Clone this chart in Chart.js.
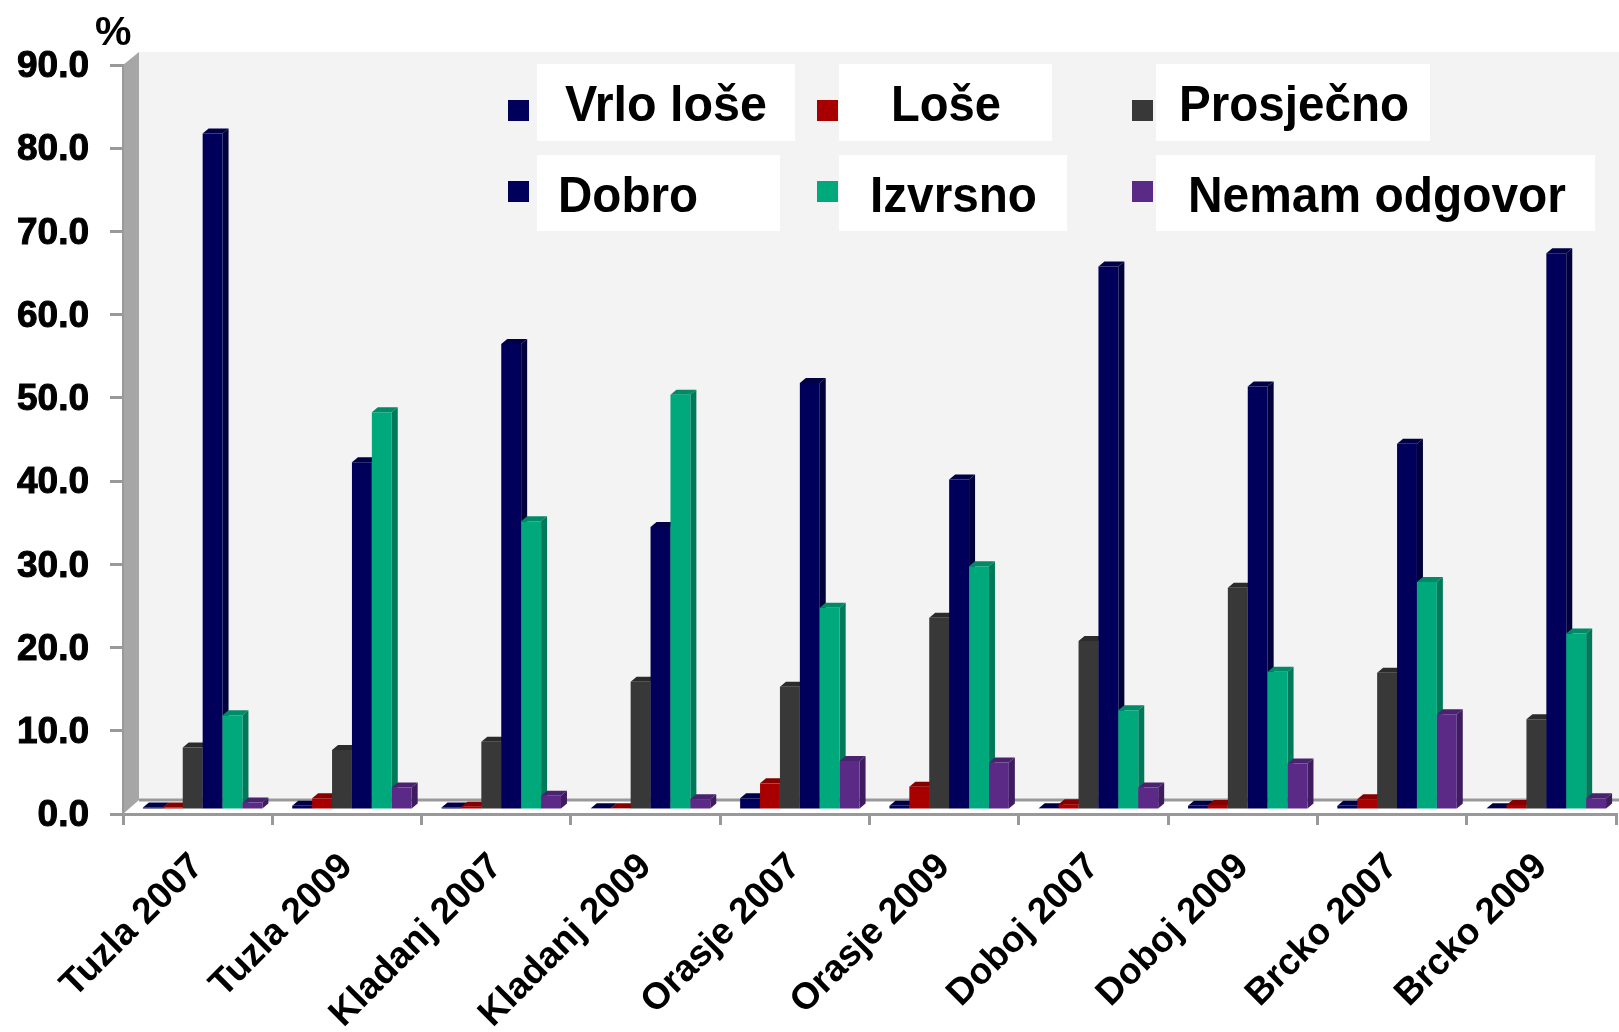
<!DOCTYPE html>
<html>
<head>
<meta charset="utf-8">
<title>Chart</title>
<script src="https://cdn.jsdelivr.net/npm/chart.js@4/dist/chart.umd.min.js"></script>
<style>
  html, body { margin: 0; padding: 0; background: #fff; overflow: hidden; }
  canvas { display: block; }
</style>
</head>
<body>
<canvas id="chart" width="1619" height="1032"></canvas>
<script>
// Values
const categories = ['Tuzla 2007', 'Tuzla 2009', 'Kladanj 2007', 'Kladanj 2009', 'Orasje 2007',
                    'Orasje 2009', 'Doboj 2007', 'Doboj 2009', 'Brcko 2007', 'Brcko 2009'];
const seriesNames = ['Vrlo loše', 'Loše', 'Prosječno', 'Dobro', 'Izvrsno', 'Nemam odgovor'];
const vrloLose = [0.3, 0.5, 0.3, 0.2, 1.4, 0.5, 0.2, 0.5, 0.5, 0.2];
const lose     = [0.3, 1.4, 0.4, 0.2, 3.2, 2.8, 0.7, 0.6, 1.3, 0.6];
const prosjecno = [7.5, 7.2, 8.2, 15.4, 14.8, 23.1, 20.3, 26.7, 16.5, 10.9];
const dobro    = [81.3, 41.8, 56.0, 34.0, 51.3, 39.7, 65.3, 50.9, 44.0, 66.9];
const izvrsno  = [11.4, 47.8, 34.7, 49.9, 24.3, 29.3, 12.0, 16.6, 27.4, 21.2];
const nemam    = [0.9, 2.7, 1.7, 1.3, 5.9, 5.7, 2.7, 5.6, 11.5, 1.4];
const seriesValues = [vrloLose, lose, prosjecno, dobro, izvrsno, nemam];

const frontColors = ['#00005a', '#a80000', '#383838', '#00005a', '#00a97c', '#5b2a86'];
const topColors   = ['#000048', '#860000', '#2b2b2b', '#000048', '#008a66', '#4a2370'];
const sideColors  = ['#00003a', '#6c0000', '#222222', '#00003a', '#00785a', '#3f1c60'];

// fake 3D: bars sit a little inside the box, depth goes up and to the right
const shiftX = 5, shiftY = -4, depthX = 6, depthY = 5;

function drawDepth(ctx, meta, i) {
  meta.data.forEach(function(bar) {
    const p = bar.getProps(['x', 'y', 'base', 'width'], true);
    const l = p.x - p.width / 2, r = p.x + p.width / 2;
    ctx.fillStyle = topColors[i];
    ctx.beginPath();
    ctx.moveTo(l, p.y);
    ctx.lineTo(l + depthX, p.y - depthY);
    ctx.lineTo(r + depthX, p.y - depthY);
    ctx.lineTo(r, p.y);
    ctx.closePath();
    ctx.fill();
    ctx.fillStyle = sideColors[i];
    ctx.beginPath();
    ctx.moveTo(r, p.y);
    ctx.lineTo(r + depthX, p.y - depthY);
    ctx.lineTo(r + depthX, p.base - depthY);
    ctx.lineTo(r, p.base);
    ctx.closePath();
    ctx.fill();
  });
}

const boxPlugin = {
  id: 'box3d',
  beforeDraw: function(chart) {
    const ctx = chart.ctx, left = chart.chartArea.left, bottom = chart.chartArea.bottom;
    ctx.save();
    // back wall
    ctx.fillStyle = '#f3f3f3';
    ctx.fillRect(139, 52, 1480, 748);
    // left wall
    ctx.fillStyle = '#a6a6a6';
    ctx.beginPath();
    ctx.moveTo(left, 65);
    ctx.lineTo(139, 52);
    ctx.lineTo(139, 800);
    ctx.lineTo(left, bottom);
    ctx.closePath();
    ctx.fill();
    // floor back edge
    ctx.strokeStyle = '#999999';
    ctx.lineWidth = 3;
    ctx.beginPath();
    ctx.moveTo(139, 800);
    ctx.lineTo(1619, 800);
    ctx.stroke();
    ctx.restore();
  },
  beforeDatasetsDraw: function(chart) {
    // series go left to right here, so each front covers the depth of the one before
    const ctx = chart.ctx;
    ctx.save();
    ctx.translate(shiftX, shiftY);
    seriesNames.forEach(function(name, i) {
      const meta = chart.getDatasetMeta(i);
      drawDepth(ctx, meta, i);
      meta.controller.draw();
    });
    ctx.restore();
    return false;
  },
  afterDraw: function(chart) {
    const ctx = chart.ctx;
    ctx.save();
    ctx.fillStyle = '#000';
    ctx.textBaseline = 'alphabetic';
    ctx.textAlign = 'left';
    ctx.font = 'bold 41px "Liberation Sans", Arial, sans-serif';
    ctx.fillText('%', 95, 45);

    // legend: [box left, top, right, bottom, swatch x, swatch y, text x, baseline, text width]
    const slots = [
      [537, 64, 795, 141, 508, 100, 565, 121, 202],
      [839, 64, 1052, 141, 817, 100, 891, 121, 110],
      [1156, 64, 1430, 141, 1132, 100, 1179, 121, 230],
      [537, 155, 780, 231, 508, 181, 558, 212, 140],
      [839, 155, 1067, 231, 817, 181, 870, 212, 167],
      [1156, 155, 1595, 231, 1132, 181, 1188, 212, 378]
    ];
    ctx.font = 'bold 50px "Liberation Sans", Arial, sans-serif';
    seriesNames.forEach(function(name, i) {
      const s = slots[i];
      ctx.fillStyle = '#ffffff';
      ctx.fillRect(s[0], s[1], s[2] - s[0], s[3] - s[1]);
      ctx.fillStyle = frontColors[i];
      ctx.fillRect(s[4], s[5], 21, 21);
      ctx.fillStyle = '#000';
      ctx.fillText(name, s[6], s[7], s[8]);
    });
    ctx.restore();
  }
};

new Chart(document.getElementById('chart'), {
  type: 'bar',
  plugins: [boxPlugin],
  data: {
    labels: categories,
    datasets: seriesNames.map(function(name, i) {
      return {
        label: name,
        data: seriesValues[i],
        backgroundColor: frontColors[i],
        categoryPercentage: 0.8,
        barPercentage: 1
      };
    })
  },
  options: {
    responsive: false,
    animation: false,
    layout: { padding: { top: 65, right: 3, left: 0, bottom: 0 } },
    plugins: { legend: { display: false }, tooltip: { enabled: false } },
    scales: {
      x: {
        afterFit: function(scale) { scale.height = 218; },
        border: { color: '#999999', width: 3 },
        grid: { drawOnChartArea: false, color: '#999999', lineWidth: 3, tickLength: 11 },
        ticks: {
          color: '#000',
          minRotation: 45,
          maxRotation: 45,
          padding: 20,
          autoSkip: false,
          font: { family: '"Liberation Sans", Arial, sans-serif', size: 37, weight: 'bold' }
        }
      },
      y: {
        min: 0,
        max: 90,
        afterFit: function(scale) { scale.width = 123; },
        border: { color: '#999999', width: 2 },
        grid: { drawOnChartArea: false, color: '#999999', lineWidth: 3, tickLength: 13 },
        ticks: {
          stepSize: 10,
          color: '#000',
          padding: 21,
          labelOffset: 2,
          textStrokeColor: '#000',
          textStrokeWidth: 1,
          callback: function(v) { return v.toFixed(1); },
          font: { family: '"Liberation Sans", Arial, sans-serif', size: 37, weight: 'bold' }
        }
      }
    }
  }
});
</script>
</body>
</html>
